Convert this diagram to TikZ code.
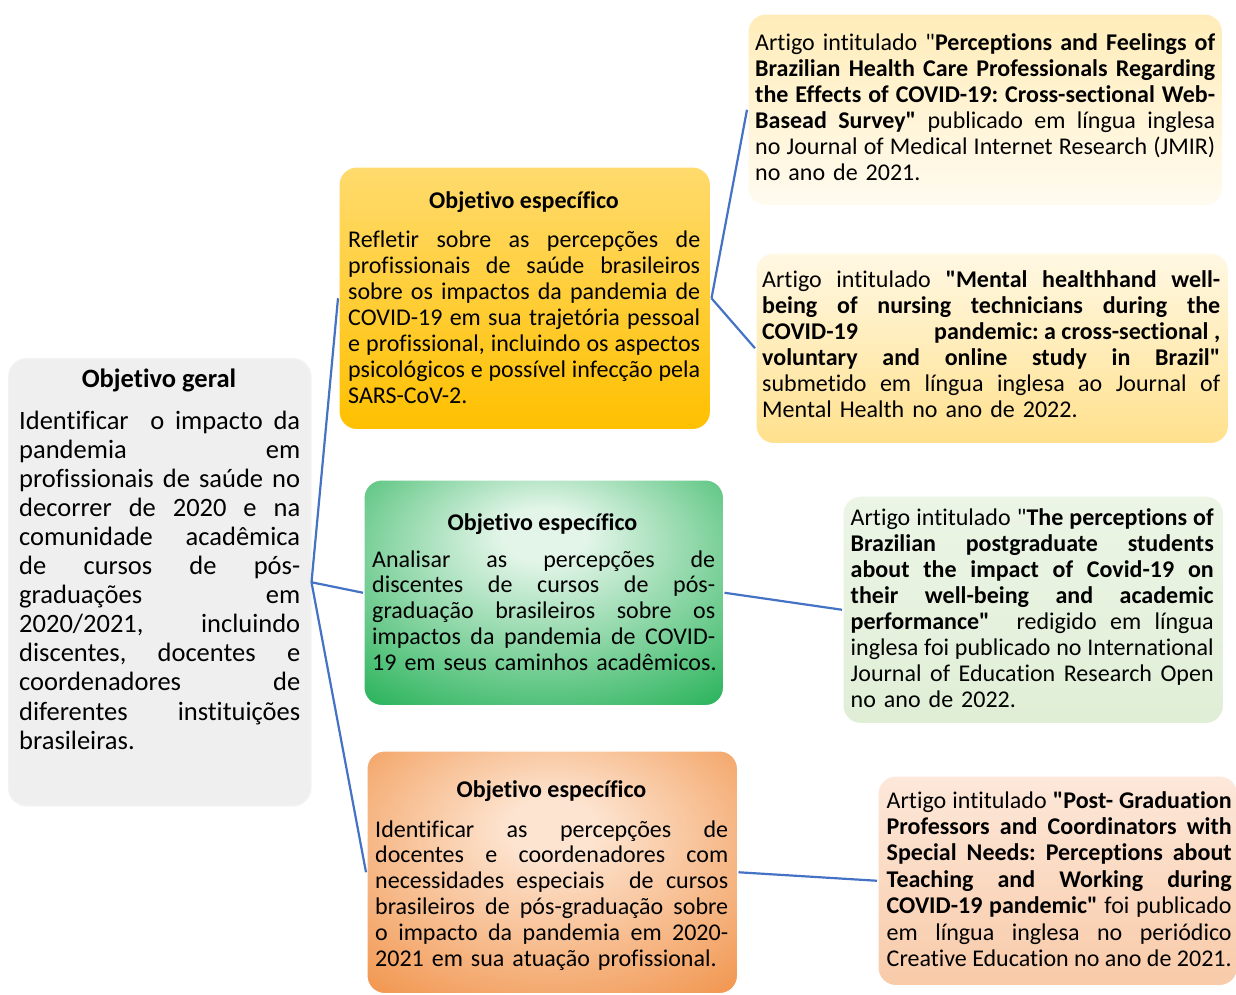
\documentclass[tikz,border=0pt]{standalone}
\usepackage{fontspec}
\setmainfont{Carlito}[Ligatures={TeXOff,CommonOff}]
\newcommand\jw{100pt}
\newcommand\J[1]{\leavevmode\hbox to \jw{\frenchspacing\spaceskip=0.226em plus 1fil minus 0.09em\relax #1}}
\newcommand\Q{\symbol{34}}
\definecolor{linkblue}{RGB}{68,114,196}
\definecolor{geralfill}{HTML}{EFEFEF}
\definecolor{gIn}{HTML}{E2F5E8}
\definecolor{gOut}{HTML}{1CAE50}
\definecolor{oIn}{HTML}{FDE4D0}
\definecolor{oOut}{HTML}{EF8838}
\pgfdeclareradialshading{glowgreen}{\pgfpoint{0bp}{14bp}}{color(0bp)=(gIn); color(6bp)=(gIn); color(42bp)=(gOut); color(70bp)=(gOut)}
\pgfdeclareradialshading{gloworange}{\pgfpoint{0bp}{10bp}}{color(0bp)=(oIn); color(6bp)=(oIn); color(44bp)=(oOut); color(70bp)=(oOut)}
\begin{document}
\begin{tikzpicture}[x=1pt,y=-1pt,
  box/.style={rounded corners=18pt, draw=white, line width=1.5pt, inner sep=0pt, anchor=north west},
  txt/.style={anchor=base west, inner sep=0pt, align=left, text width=#1+30pt, execute at begin node={\renewcommand\jw{#1}}, font=\fontsize{24}{26.1}\selectfont},
  ttl/.style={anchor=base, inner sep=0pt, font=\fontsize{24}{26.1}\selectfont\bfseries},
  link/.style={draw=linkblue, line width=2.2pt}]
\useasboundingbox (0,0) rectangle (1236,994);

% boxes
\node[box, fill=geralfill, draw=white!95!black, minimum width=302pt, minimum height=447pt] (geral) at (8,358) {};
\node[box, shading=axis, top color={rgb,255:red,255;green,219;blue,110}, middle color={rgb,255:red,255;green,200;blue,46}, bottom color={rgb,255:red,255;green,192;blue,0}, minimum width=372pt, minimum height=263pt] (yel) at (338,166) {};
\node[box, shading=glowgreen, minimum width=360pt, minimum height=226pt] (grn) at (363,479) {};
\node[box, shading=gloworange, minimum width=371pt, minimum height=243pt] (org) at (366,750) {};
\node[box, shading=axis, top color={rgb,255:red,255;green,236;blue,184}, bottom color={rgb,255:red,255;green,251;blue,240}, minimum width=475pt, minimum height=192pt] (art1) at (747,13) {};
\node[box, shading=axis, top color={rgb,255:red,255;green,248;blue,228}, bottom color={rgb,255:red,255;green,224;blue,140}, minimum width=473pt, minimum height=191pt] (art2) at (755,252) {};
\node[box, shading=axis, top color={rgb,255:red,236;green,245;blue,230}, bottom color={rgb,255:red,224;green,238;blue,214}, minimum width=381pt, minimum height=228pt] (art3) at (842,495) {};
\node[box, shading=axis, top color={rgb,255:red,253;green,232;blue,218}, bottom color={rgb,255:red,248;green,202;blue,168}, minimum width=360pt, minimum height=210pt] (art4) at (877,775) {};

% connectors
\draw[link] (geral.east) -- (yel.west);
\draw[link] (geral.east) -- (grn.west);
\draw[link] (geral.east) -- (org.west);
\draw[link] (yel.east) -- (art1.west);
\draw[link] (yel.east) -- (art2.west);
\draw[link] (grn.east) -- (art3.west);
\draw[link] (org.east) -- (art4.west);

% texts
\node[ttl, font=\fontsize{26.5}{29.1}\selectfont\bfseries] (geralT) at (159,387) {Objetivo geral};
\node[txt=281pt, font=\fontsize{26.5}{29.1}\selectfont] (geralB) at (19,429) {%
\J{Identificar\ \ o impacto da}\\
\J{pandemia em}\\
\J{profissionais de saúde no}\\
\J{decorrer de 2020 e na}\\
\J{comunidade acadêmica}\\
\J{de cursos de pós-}\\
\J{graduações em}\\
\J{2020/2021, incluindo}\\
\J{discentes, docentes e}\\
\J{coordenadores de}\\
\J{diferentes instituições}\\
\mbox{brasileiras.}};

\node[ttl] (yelT) at (524,208) {Objetivo específico};
\node[txt=352pt] (yelB) at (348,247) {%
\J{Refletir sobre as percepções de}\\
\J{profissionais de saúde brasileiros}\\
\J{sobre os impactos da pandemia de}\\
\J{COVID-19 em sua trajetória pessoal}\\
\J{e profissional, incluindo os aspectos}\\
\J{psicológicos e possível infecção pela}\\
\mbox{SARS-CoV-2.}};

\node[ttl] (grnT) at (542.5,530) {Objetivo específico};
\node[txt=343pt, font=\fontsize{24}{25.8}\selectfont] (grnB) at (372,567) {%
\J{Analisar as percepções de}\\
\J{discentes de cursos de pós-}\\
\J{graduação brasileiros sobre os}\\
\J{impactos da pandemia de COVID-}\\
\mbox{19 em seus caminhos acadêmicos.}};

\node[ttl] (orgT) at (551.5,797) {Objetivo específico};
\node[txt=353pt, font=\fontsize{24}{25.9}\selectfont] (orgB) at (375,837) {%
\J{Identificar as percepções de}\\
\J{docentes e coordenadores com}\\
\J{necessidades especiais \ de cursos}\\
\J{brasileiros de pós-graduação sobre}\\
\J{o impacto da pandemia em 2020-}\\
\mbox{2021 em sua atuação profissional.}};

\node[txt=460pt] (art1B) at (755,50) {%
\J{Artigo intitulado \Q\textbf{Perceptions and Feelings of}}\\
\J{\textbf{Brazilian Health Care Professionals Regarding}}\\
\J{\textbf{the Effects of COVID-19: Cross-sectional Web-}}\\
\J{\textbf{Basead Survey\Q} publicado em língua inglesa}\\
\J{no Journal of Medical Internet Research (JMIR)}\\
\mbox{no ano de 2021.}};

\node[txt=458pt] (art2B) at (762,287) {%
\J{Artigo intitulado \textbf{\Q Mental healthhand well-}}\\
\J{\textbf{being of nursing technicians during the}}\\
\J{\textbf{COVID-19\hskip 0.226em plus 1fill pandemic: a cross-sectional ,}}\\
\J{\textbf{voluntary and online study in Brazil\Q}}\\
\J{submetido em língua inglesa ao Journal of}\\
\mbox{Mental Health no ano de 2022.}};

\node[txt=363pt] (art3B) at (850.5,525) {%
\J{Artigo intitulado \Q\textbf{The perceptions of}}\\
\J{\textbf{Brazilian postgraduate students}}\\
\J{\textbf{about the impact of Covid-19 on}}\\
\J{\textbf{their well-being and academic}}\\
\J{\textbf{performance\Q} \ redigido em língua}\\
\J{inglesa foi publicado no International}\\
\J{Journal of Education Research Open}\\
\mbox{no ano de 2022.}};

\node[txt=345pt, font=\fontsize{24}{26.4}\selectfont] (art4B) at (886.5,808) {%
\J{Artigo intitulado \textbf{\Q Post- Graduation}}\\
\J{\textbf{Professors and Coordinators with}}\\
\J{\textbf{Special Needs: Perceptions about}}\\
\J{\textbf{Teaching and Working during}}\\
\J{\textbf{COVID-19 pandemic\Q} foi publicado}\\
\J{em língua inglesa no periódico}\\
\J{Creative Education no ano de 2021.}};
\end{tikzpicture}
\end{document}
